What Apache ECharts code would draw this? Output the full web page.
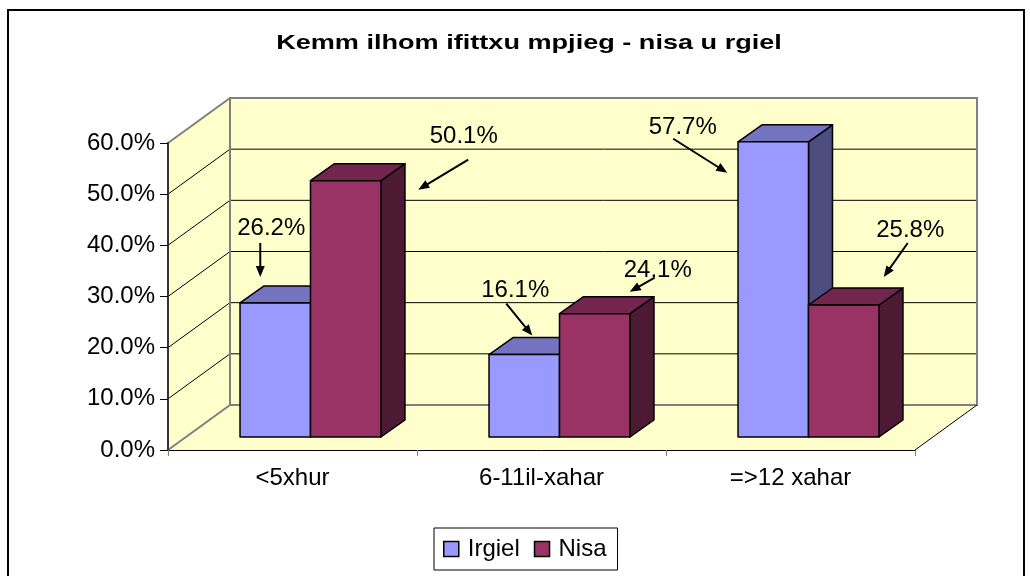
<!DOCTYPE html>
<html><head><meta charset="utf-8">
<script src="https://cdn.jsdelivr.net/npm/echarts@6/dist/echarts.min.js"></script>
<style>html,body{margin:0;padding:0;background:#fff}#c{width:1030px;height:576px}</style>
</head><body><div id="c"></div>
<script>
// ---- data ----
const titleText = 'Kemm ilhom ifittxu mpjieg - nisa u rgiel';
const categories = ['<5xhur', '6-11il-xahar', '=>12 xahar'];
const seriesNames = ['Irgiel', 'Nisa'];
const irgielValues = [0.262, 0.161, 0.577];
const nisaValues = [0.501, 0.241, 0.258];
const yTicks = [0, 0.1, 0.2, 0.3, 0.4, 0.5, 0.6];

// ---- style / layout ----
const FONT = '"Liberation Sans", Arial, Helvetica, sans-serif';
const WALL = '#FFFFCC';
const WALL_DX = 62, WALL_DY = -45;
const BAR_SHIFT_X = 18, BAR_SHIFT_Y = -13;
const BAR_DX = 24, BAR_DY = -17;
const BAR_FRACTION = 0.283;
const palettes = [
  {front: '#9999FF', top: '#7373BF', side: '#4D4D80'},
  {front: '#993366', top: '#73264D', side: '#4D1A33'}
];
// callouts: offsets from the bar's front-top centre [textDx, textDy, fromDx, fromDy, toDx, toDy]
const callouts = [
  [[-4, -74.5, -15, -60, -15, -26], [-9, -64, -18, -51, 8, -19], [-90.5, -14, -100, -3, -46, 31]],
  [[118, -44.5, 122.5, -21, 72.5, 9], [63, -43.5, 60, -36, 35, -22], [66.5, -75, 64, -62, 40, -28]]
];

function fmtPct(v) { return (v * 100).toFixed(1) + '%'; }

function arrow(x1, y1, x2, y2) {
  const L = 11, W = 9;
  const dx = x2 - x1, dy = y2 - y1, len = Math.hypot(dx, dy);
  const ux = dx / len, uy = dy / len, nx = -uy, ny = ux;
  const bx = x2 - ux * L, by = y2 - uy * L;
  return [
    {type: 'line', shape: {x1: x1, y1: y1, x2: bx + ux * 2, y2: by + uy * 2},
     style: {stroke: '#000', lineWidth: 2}},
    {type: 'polygon', shape: {points: [[x2, y2], [bx + nx * W / 2, by + ny * W / 2], [bx - nx * W / 2, by - ny * W / 2]]},
     style: {fill: '#000'}}
  ];
}

function barRenderer(si) {
  return function (params, api) {
    const ci = api.value(0), v = api.value(1);
    const band = api.size([1, 0])[0];
    const w = band * BAR_FRACTION;
    const p = api.coord([ci, v]);
    const b = api.coord([ci, 0]);
    const cx = p[0] + BAR_SHIFT_X + (si === 0 ? -w / 2 : w / 2);
    const x0 = cx - w / 2, x1 = cx + w / 2;
    const yT = p[1] + BAR_SHIFT_Y, yB = b[1] + BAR_SHIFT_Y;
    const pal = palettes[si];
    const stroke = {stroke: '#000', lineWidth: 1.5, lineJoin: 'round'};
    const co = callouts[si][params.dataIndex];
    const children = [
      {type: 'polygon', shape: {points: [[x1, yT], [x1 + BAR_DX, yT + BAR_DY], [x1 + BAR_DX, yB + BAR_DY], [x1, yB]]},
       style: Object.assign({fill: pal.side}, stroke)},
      {type: 'polygon', shape: {points: [[x0, yT], [x1, yT], [x1 + BAR_DX, yT + BAR_DY], [x0 + BAR_DX, yT + BAR_DY]]},
       style: Object.assign({fill: pal.top}, stroke)},
      {type: 'rect', shape: {x: x0, y: yT, width: w, height: yB - yT},
       style: Object.assign({fill: pal.front}, stroke)},
      {type: 'text', x: cx + co[0], y: yT + co[1],
       style: {text: fmtPct(v), fill: '#000', fontSize: 24, fontFamily: FONT, align: 'center', verticalAlign: 'middle'}}
    ].concat(arrow(cx + co[2], yT + co[3], cx + co[4], yT + co[5]));
    return {type: 'group', children: children};
  };
}

function wallRenderer(params, api) {
  const cs = params.coordSys;
  const L = cs.x, R = cs.x + cs.width;
  const B = api.coord([0, yTicks[0]])[1];
  const T = api.coord([0, yTicks[yTicks.length - 1]])[1];
  const dx = WALL_DX, dy = WALL_DY;
  const gray = {stroke: '#808080', lineWidth: 2};
  const children = [
    {type: 'polygon', shape: {points: [[L, B], [R, B], [R + dx, B + dy], [L + dx, B + dy]]}, style: {fill: WALL}},
    {type: 'polygon', shape: {points: [[L, B], [L, T], [L + dx, T + dy], [L + dx, B + dy]]}, style: {fill: WALL}},
    {type: 'rect', shape: {x: L + dx, y: T + dy, width: R - L, height: B - T}, style: {fill: WALL}}
  ];
  yTicks.slice(1, -1).forEach(function (t) {
    const y = api.coord([0, t])[1];
    children.push({type: 'line', shape: {x1: L + dx, y1: y + dy, x2: R + dx, y2: y + dy}, style: {stroke: '#000', lineWidth: 1}});
    children.push({type: 'line', shape: {x1: L, y1: y, x2: L + dx, y2: y + dy}, style: {stroke: '#000', lineWidth: 1}});
  });
  children.push({type: 'rect', shape: {x: L + dx, y: T + dy, width: R - L, height: B - T}, style: Object.assign({fill: 'none'}, gray)});
  children.push({type: 'line', shape: {x1: L, y1: T, x2: L + dx, y2: T + dy}, style: gray});
  children.push({type: 'line', shape: {x1: L, y1: B, x2: L + dx, y2: B + dy}, style: gray});
  children.push({type: 'line', shape: {x1: R, y1: B, x2: R + dx, y2: B + dy}, style: {stroke: '#000', lineWidth: 1}});
  return {type: 'group', children: children};
}

const chart = echarts.init(document.getElementById('c'), null, {renderer: 'canvas'});
chart.setOption({
  animation: false,
  backgroundColor: '#fff',
  graphic: [
    {type: 'rect', shape: {x: 8, y: 10, width: 1016, height: 590}, style: {fill: 'none', stroke: '#000', lineWidth: 2}, z: 100},
    {type: 'text', x: 529, y: 43, scaleX: 1.29, scaleY: 1,
     style: {text: titleText, fontSize: 21, fontWeight: 'bold', fontFamily: FONT, fill: '#000', align: 'center', verticalAlign: 'middle'}}
  ],
  grid: {left: 168, right: 115, top: 143, bottom: 126, containLabel: false, outerBoundsMode: 'none'},
  legend: {
    data: seriesNames, left: 434, top: 528, orient: 'horizontal',
    itemWidth: 15, itemHeight: 15, itemGap: 14, icon: 'rect',
    padding: [9, 11, 9, 9], borderColor: '#000', borderWidth: 1,
    itemStyle: {borderColor: '#000', borderWidth: 1.5},
    textStyle: {fontSize: 24, color: '#000', fontFamily: FONT, padding: [0, 0, 0, 4]}
  },
  xAxis: {
    type: 'category', data: categories, boundaryGap: true,
    axisLine: {show: true, lineStyle: {color: '#000', width: 1}},
    axisTick: {show: true, length: 6, lineStyle: {color: '#808080', width: 1}},
    axisLabel: {fontSize: 24, color: '#000', fontFamily: FONT, margin: 16, interval: 0},
    splitLine: {show: false}
  },
  yAxis: {
    type: 'value', min: 0, max: 0.6, interval: 0.1,
    axisLine: {show: true, lineStyle: {color: '#333', width: 2}},
    axisTick: {show: true, length: 8, lineStyle: {color: '#000', width: 1}},
    axisLabel: {fontSize: 24, color: '#000', fontFamily: FONT, margin: 13, formatter: fmtPct},
    splitLine: {show: false}
  },
  series: [
    {type: 'custom', name: '_walls', z: -1, silent: true, clip: false, renderItem: wallRenderer, data: [[0, 0]]},
    {type: 'custom', name: seriesNames[0], z: 3, clip: false, color: palettes[0].front, itemStyle: {color: palettes[0].front},
     renderItem: barRenderer(0), data: irgielValues.map(function (v, i) { return [i, v]; })},
    {type: 'custom', name: seriesNames[1], z: 4, clip: false, color: palettes[1].front, itemStyle: {color: palettes[1].front},
     renderItem: barRenderer(1), data: nisaValues.map(function (v, i) { return [i, v]; })}
  ]
});
</script></body></html>
